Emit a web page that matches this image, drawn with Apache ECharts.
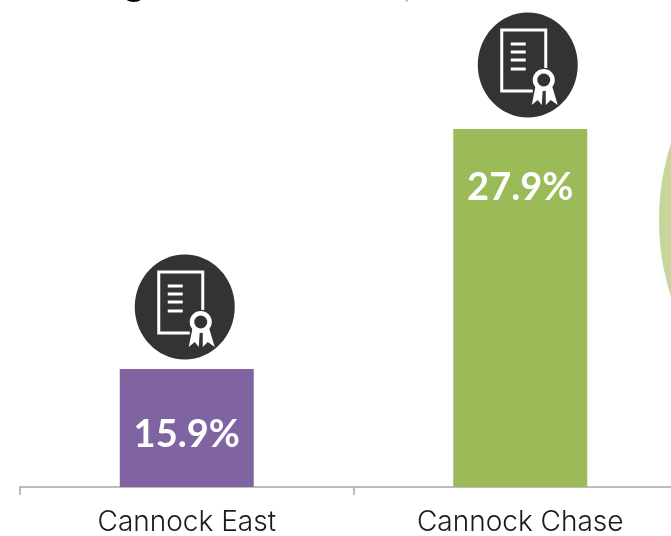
<!DOCTYPE html>
<html>
<head>
<meta charset="utf-8">
<style>
  html, body { margin: 0; padding: 0; background: #fff; overflow: hidden; }
  #chart { width: 671px; height: 536px; }
</style>
<script src="https://cdn.jsdelivr.net/npm/echarts@6/dist/echarts.min.js"></script>
</head>
<body>
<div id="chart"></div>
<script>
const categories = ['Cannock East', 'Cannock Chase'];
const attainment = [15.9, 27.9];
const barColors = ['#8064a2', '#9bbb59'];

// icon placement differs a little per bar in the original slide
function iconOffset(idx) {
    return idx === 0 ? { x: -2, y: -62 } : { x: 7.5, y: -64 };
}

function renderIcon(params, api) {
    const idx = api.value(0);
    const pos = api.coord([idx, api.value(1)]);
    const off = iconOffset(idx);
    const white = { fill: '#fff' };
    const lines = [-21, -13, -5, 4].map(function (y) {
        return { type: 'rect', shape: { x: -17, y: y - 1.5, width: 15, height: 3 }, style: white };
    });
    return {
        type: 'group',
        x: pos[0] + off.x,
        y: pos[1] + off.y,
        children: [
            { type: 'ellipse', shape: { cx: 0, cy: 0, rx: 50, ry: 52.5 }, style: { fill: '#333333' } },
            {
                type: 'polyline',
                shape: { points: [[18, 3], [18, -35], [-26, -35], [-26, 26], [5, 26]] },
                style: { fill: null, stroke: '#fff', lineWidth: 3 }
            }
        ].concat(lines, [
            { type: 'polygon', shape: { points: [[8, 20], [4, 40], [10, 35], [14, 40], [15, 25]] }, style: white },
            { type: 'polygon', shape: { points: [[18, 25], [18, 40], [23, 35], [30, 40], [24, 20]] }, style: white },
            { type: 'circle', shape: { cx: 16, cy: 15, r: 11 }, style: white },
            { type: 'circle', shape: { cx: 16, cy: 15, r: 6.5 }, style: { fill: '#333333' } }
        ])
    };
}

const chart = echarts.init(document.getElementById('chart'));
chart.setOption({
    animation: false,
    backgroundColor: '#fff',
    grid: { left: 20, top: 87, width: 667, height: 400, outerBoundsMode: 'none' },
    graphic: [
        { type: 'circle', z: -1, shape: { cx: 912, cy: 220, r: 253 }, style: { fill: '#c5d69b' } },
        { type: 'text', x: 122, y: 3, style: { text: 'g', font: 'bold 40px "Liberation Sans"', fill: '#000', textVerticalAlign: 'bottom' } },
        { type: 'text', x: 404, y: 3, style: { text: ',', font: '20px "Liberation Sans"', fill: '#777', textVerticalAlign: 'bottom' } }
    ],
    xAxis: {
        type: 'category',
        data: categories,
        axisLine: { lineStyle: { color: '#a6a6a6', width: 1.5 } },
        axisTick: { show: true, length: 8, lineStyle: { color: '#a6a6a6', width: 1.5 } },
        axisLabel: { color: '#1a1a1a', fontFamily: 'Inter', fontWeight: 300, fontSize: 28, margin: 22 }
    },
    yAxis: { type: 'value', min: 10, max: 30, show: false },
    series: [
        {
            type: 'bar',
            barWidth: 134,
            data: attainment.map(function (v, i) {
                return {
                    value: v,
                    itemStyle: { color: barColors[i] },
                    label: { distance: i === 0 ? 47 : 40 }
                };
            }),
            label: {
                show: true,
                position: 'insideTop',
                formatter: '{c}%',
                color: '#fff',
                fontFamily: 'Lato',
                fontWeight: 'bold',
                fontSize: 38
            }
        },
        {
            type: 'custom',
            renderItem: renderIcon,
            encode: { x: 0, y: 1 },
            clip: false,
            data: attainment.map(function (v, i) { return [i, v]; })
        }
    ]
});
</script>
</body>
</html>
